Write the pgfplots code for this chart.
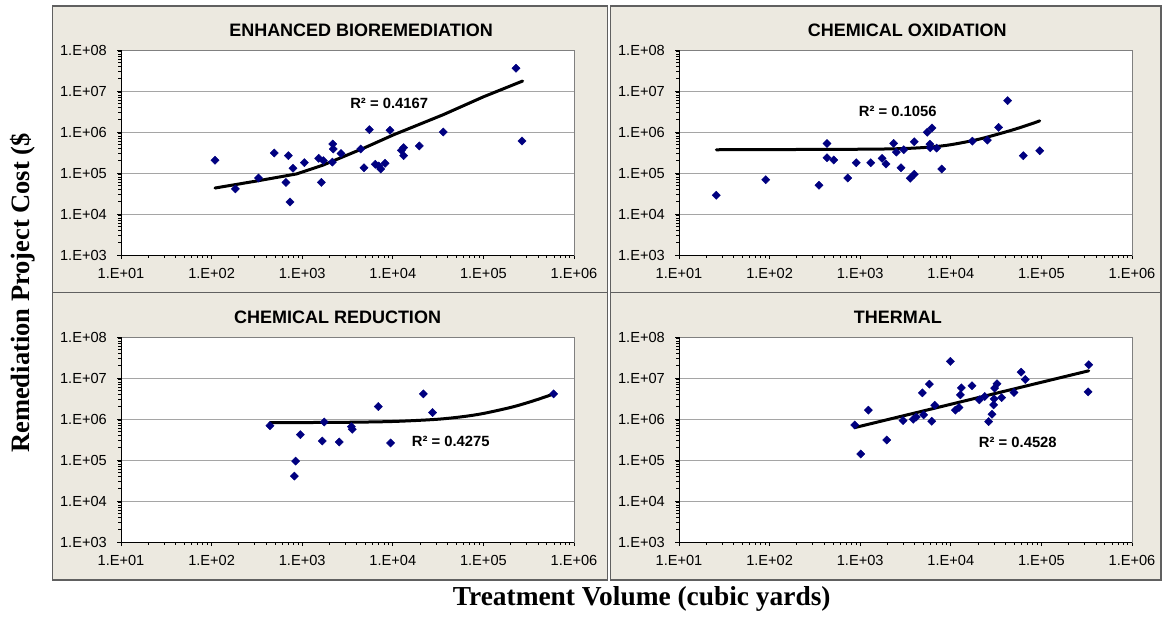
\documentclass[border=0pt]{standalone}
\usepackage{fontspec}
\setmainfont{Liberation Sans}
\newfontfamily\timesfont{Liberation Serif}
\usepackage{pgfplots}
\usepackage{pgfplotstable}
\pgfplotsset{compat=1.18}

\definecolor{panelbg}{RGB}{236,233,224}
\definecolor{framegray}{RGB}{96,96,96}
\definecolor{gridgray}{RGB}{165,165,165}
\definecolor{navy}{RGB}{0,0,128}

% Enhanced bioremediation
\pgfplotstableread{
x y
109 2.04e5
183 4.1e4
330 7.55e4
492 3.08e5
662 5.9e4
703 2.65e5
733 1.96e4
791 1.30e5
1056 1.79e5
1521 2.28e5
1712 2.0e5
1626 5.9e4
2168 5.1e5
2207 3.85e5
2153 1.85e5
2680 3.0e5
4416 3.85e5
4808 1.35e5
5508 1.14e6
6412 1.63e5
6984 1.48e5
7347 1.25e5
8206 1.72e5
9318 1.10e6
12420 3.57e5
13180 4.15e5
13180 2.65e5
19640 4.56e5
36140 1.0e6
229000 3.57e7
267000 6.03e5
}\bioData
\pgfplotstableread{
x y
109 4.3e4
314 6.38e4
869 9.5e4
1712 1.57e5
4732 4.0e5
10140 8.5e5
36140 2.65e6
99800 7.2e6
271000 1.75e7
}\bioTrend

% Chemical oxidation
\pgfplotstableread{
x y
25.8 2.87e4
90.6 6.88e4
351 5.01e4
430 5.26e5
430 2.36e5
510 2.07e5
728 7.57e4
906 1.78e5
1305 1.78e5
1742 2.27e5
1928 1.66e5
2340 5.26e5
2505 3.24e5
3020 3.69e5
2820 1.35e5
3570 7.42e4
3955 9.3e4
3955 5.77e5
5500 9.9e5
6200 1.26e6
5890 5.06e5
5940 4.12e5
6980 4.05e5
7930 1.25e5
17300 5.98e5
25300 6.34e5
33700 1.29e6
42400 5.82e6
63200 2.64e5
95700 3.49e5
}\oxData
\pgfplotstableread{
x y
25.8 3.69e5
1000 3.80e5
3000 3.95e5
6000 4.30e5
10000 4.90e5
20000 6.60e5
40000 9.97e5
60000 1.31e6
80000 1.62e6
95700 1.87e6
}\oxTrend

% Chemical reduction
\pgfplotstableread{
x y
441 6.89e5
847 9.42e4
819 4.05e4
953 4.15e5
1667 2.9e5
1754 8.47e5
2570 2.75e5
3485 6.52e5
3573 5.61e5
6918 2.01e6
9460 2.6e5
21700 4.1e6
27500 1.44e6
597000 4.1e6
}\redData
\pgfplotstableread{
x y
441 8.17e5
1000 8.20e5
3000 8.31e5
10000 8.70e5
30000 9.80e5
60000 1.145e6
100000 1.365e6
200000 1.915e6
300000 2.465e6
400000 3.015e6
500000 3.565e6
597000 4.1e6
}\redTrend

% Thermal
\pgfplotstableread{
x y
869 7.16e5
1012 1.40e5
1230 1.64e6
1961 3.08e5
2968 9.14e5
3857 9.84e5
4165 1.12e6
5020 1.26e6
4850 4.35e6
5800 7.08e6
6150 8.81e5
6640 2.17e6
9890 2.54e7
11220 1.64e6
12320 1.90e6
12750 3.89e6
13070 5.77e6
17130 6.45e6
20640 2.94e6
23650 3.54e6
26180 8.65e5
28500 1.31e6
29740 2.21e6
30000 3.1e6
30500 5.66e6
32360 7.24e6
36400 3.34e6
49850 4.43e6
59600 1.39e7
66500 9.2e6
333000 2.1e7
327000 4.59e6
}\thermData
\pgfplotstableread{
x y
869 6.17e5
333000 1.5e7
}\thermTrend

\pgfplotsset{
  every axis/.append style={
    xmode=log, ymode=log,
    scale only axis, width=453pt, height=205pt,
    xmin=10, xmax=1e6, ymin=1e3, ymax=1e8,
    xtick={1e1,1e2,1e3,1e4,1e5,1e6},
    xticklabels={1.E+01,1.E+02,1.E+03,1.E+04,1.E+05,1.E+06},
    ytick={1e3,1e4,1e5,1e6,1e7,1e8},
    yticklabels={1.E+03,1.E+04,1.E+05,1.E+06,1.E+07,1.E+08},
    minor xtick={}, minor ytick={},
    tick align=outside, major tick length=4pt,
    xtick pos=left, ytick pos=left,
    tick style={black, line width=0.8pt},
    ymajorgrids, major grid style={gridgray, line width=1pt},
    axis line style={gray, line width=1pt},
    xticklabel style={font=\fontsize{14.6}{16}\selectfont, inner sep=0pt, anchor=north, yshift=-9pt},
    yticklabel style={font=\fontsize{14.6}{16}\selectfont, inner sep=0pt, anchor=east, xshift=-10pt},
    title style={font=\fontsize{18}{20}\selectfont\bfseries, anchor=center, yshift=13.7pt, inner sep=0pt},
  },
  axis background/.style={fill=white},
}

\begin{document}
\begin{tikzpicture}
\useasboundingbox (0pt,0pt) rectangle (1163pt,-625pt);

% panel frames
\fill[panelbg] (52.4pt,-6pt) rectangle (607.7pt,-292.5pt);
\fill[panelbg] (610.3pt,-6pt) rectangle (1161pt,-292.5pt);
\fill[panelbg] (52.4pt,-292.5pt) rectangle (607.7pt,-580pt);
\fill[panelbg] (610.3pt,-292.5pt) rectangle (1161pt,-580pt);
\draw[framegray, line width=1.2pt] (52.4pt,-6pt) rectangle (607.7pt,-292.5pt);
\draw[framegray, line width=1.2pt] (610.3pt,-6pt) rectangle (1161pt,-292.5pt);
\draw[framegray, line width=1.2pt] (52.4pt,-292.5pt) rectangle (607.7pt,-580pt);
\draw[framegray, line width=1.2pt] (610.3pt,-292.5pt) rectangle (1161pt,-580pt);

\begin{axis}[at={(121pt,-255pt)}, anchor=south west,
  title={ENHANCED BIOREMEDIATION}, title style={at={(0.530,1)}}]
  \addplot[only marks, mark=square*, mark size=2.9pt, mark options={rotate=45, fill=navy, draw=navy}, color=navy] table {\bioData};
  \addplot[black, line width=3pt, no marks, line join=round, line cap=round] table {\bioTrend};
  \node[font=\fontsize{14.8}{16}\selectfont\bfseries, inner sep=0pt] at (rel axis cs:0.592,0.740) {R² = 0.4167};
  \draw[black, line width=1pt] (rel axis cs:0,1) -- (rel axis cs:0,0) -- (rel axis cs:1,0);
\end{axis}

\begin{axis}[at={(679pt,-255pt)}, anchor=south west,
  title={CHEMICAL OXIDATION}, title style={at={(0.504,1)}}]
  \addplot[only marks, mark=square*, mark size=2.9pt, mark options={rotate=45, fill=navy, draw=navy}, color=navy] table {\oxData};
  \addplot[black, line width=3pt, no marks, line join=round, line cap=round, smooth] table {\oxTrend};
  \node[font=\fontsize{14.8}{16}\selectfont\bfseries, inner sep=0pt] at (rel axis cs:0.483,0.702) {R² = 0.1056};
  \draw[black, line width=1pt] (rel axis cs:0,1) -- (rel axis cs:0,0) -- (rel axis cs:1,0);
\end{axis}

\begin{axis}[at={(121pt,-542pt)}, anchor=south west,
  title={CHEMICAL REDUCTION}, title style={at={(0.478,1)}}]
  \addplot[only marks, mark=square*, mark size=2.9pt, mark options={rotate=45, fill=navy, draw=navy}, color=navy] table {\redData};
  \addplot[black, line width=3pt, no marks, line join=round, line cap=round, smooth] table {\redTrend};
  \node[font=\fontsize{14.8}{16}\selectfont\bfseries, inner sep=0pt] at (rel axis cs:0.728,0.489) {R² = 0.4275};
  \draw[black, line width=1pt] (rel axis cs:0,1) -- (rel axis cs:0,0) -- (rel axis cs:1,0);
\end{axis}

\begin{axis}[at={(679pt,-542pt)}, anchor=south west,
  title={THERMAL}, title style={at={(0.483,1)}}]
  \addplot[only marks, mark=square*, mark size=2.9pt, mark options={rotate=45, fill=navy, draw=navy}, color=navy] table {\thermData};
  \addplot[black, line width=3pt, no marks, line join=round, line cap=round] table {\thermTrend};
  \node[font=\fontsize{14.8}{16}\selectfont\bfseries, inner sep=0pt] at (rel axis cs:0.748,0.486) {R² = 0.4528};
  \draw[black, line width=1pt] (rel axis cs:0,1) -- (rel axis cs:0,0) -- (rel axis cs:1,0);
\end{axis}

\node[rotate=90, anchor=base, inner sep=0pt,
  font=\timesfont\bfseries\fontsize{26.5}{28}\selectfont] at (30pt,-293pt)
  {Remediation Project Cost (\$};
\node[anchor=base, inner sep=0pt,
  font=\timesfont\bfseries\fontsize{27.4}{29}\selectfont] at (641.7pt,-605pt)
  {Treatment Volume (cubic yards)};
\end{tikzpicture}
\end{document}
